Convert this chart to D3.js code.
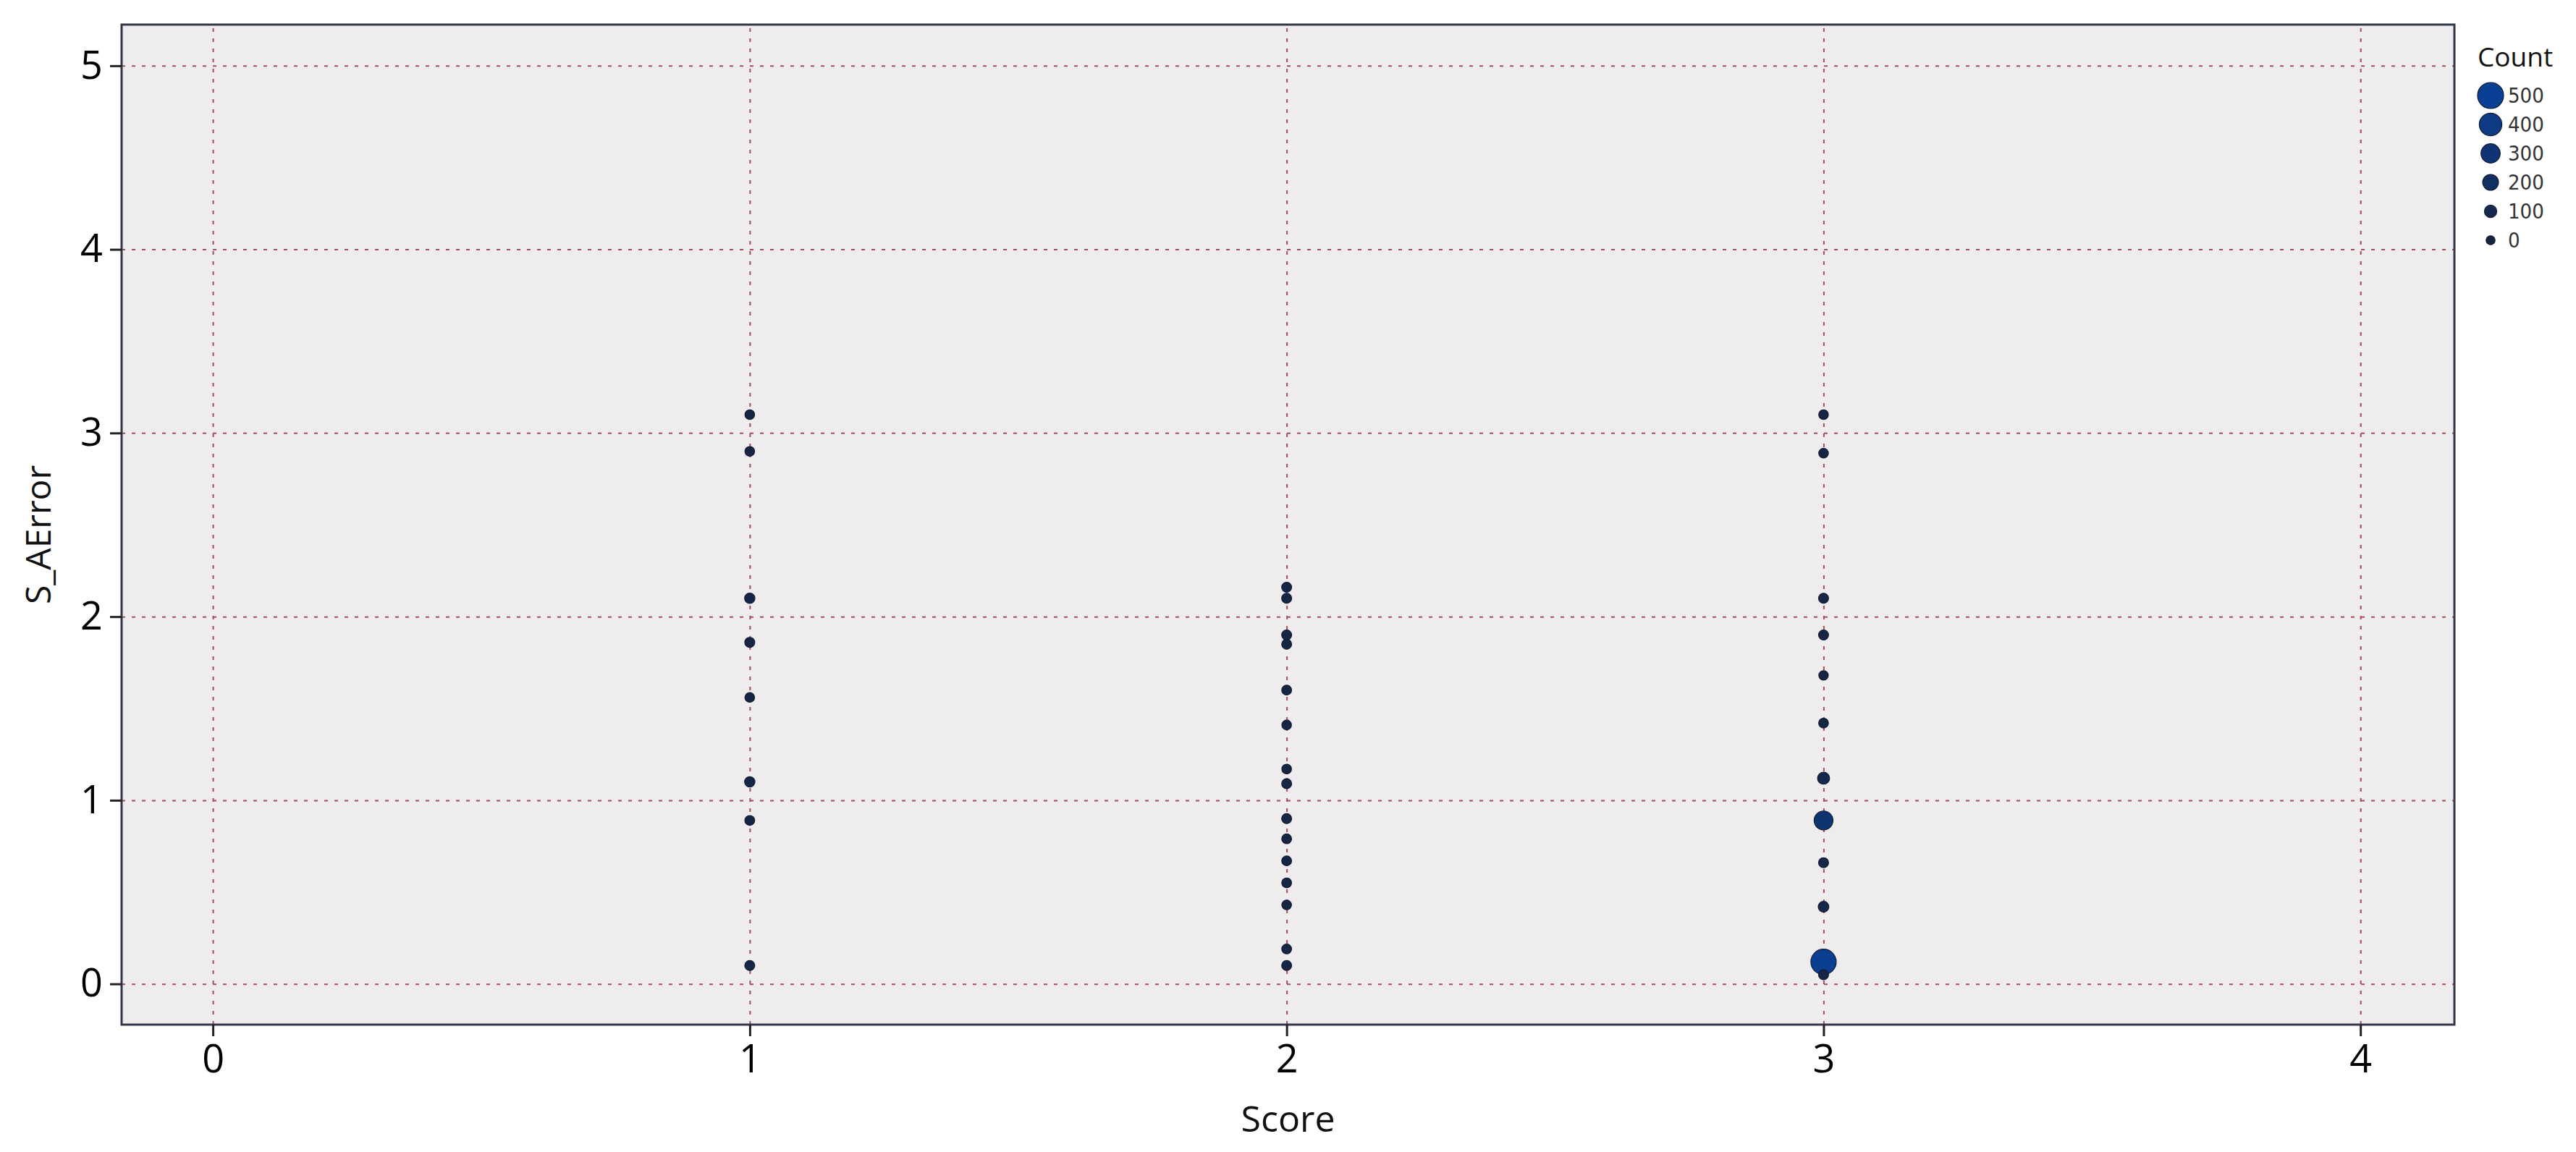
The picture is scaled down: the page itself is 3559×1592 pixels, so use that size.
<!DOCTYPE html>
<html>
<head>
<meta charset="utf-8">
<script src="https://cdn.jsdelivr.net/npm/d3@7"></script>
<style>
	body { margin: 0; background: #ffffff; }
	text { font-family: "Open Sans", "Noto Sans", sans-serif; fill: #111; }
	.legendtext { font-family: "Liberation Sans Narrow", "DejaVu Sans Condensed", sans-serif; fill: #333; }
</style>
</head>
<body>
<div id="chart"></div>
<script>
// points: score, error and count for each dot
var pointScore = [1, 1, 1, 1, 1, 1, 1, 1,
	2, 2, 2, 2, 2, 2, 2, 2, 2, 2, 2, 2, 2, 2, 2,
	3, 3, 3, 3, 3, 3, 3, 3, 3, 3, 3, 3];
var pointError = [3.10, 2.90, 2.10, 1.86, 1.56, 1.10, 0.89, 0.10,
	2.16, 2.10, 1.90, 1.85, 1.60, 1.41, 1.17, 1.09, 0.90, 0.79, 0.67, 0.55, 0.43, 0.19, 0.10,
	3.10, 2.89, 2.10, 1.90, 1.68, 1.42, 1.12, 0.89, 0.66, 0.42, 0.12, 0.05];
var pointCount = [20, 20, 40, 30, 20, 40, 25, 30,
	30, 30, 30, 30, 25, 20, 20, 30, 30, 25, 25, 25, 20, 25, 30,
	20, 20, 30, 30, 15, 25, 90, 290, 30, 50, 480, 30];

// ticks and legend values
var xTicks = [0, 1, 2, 3, 4];
var yTicks = [0, 1, 2, 3, 4, 5];
var legendCounts = [500, 400, 300, 200, 100, 0];

var width = 3559, height = 1592;
var margin = {top: 34, right: 168, bottom: 176, left: 168};
var w = width - margin.left - margin.right;
var h = height - margin.top - margin.bottom;

var x = d3.scaleLinear().domain([-0.17, 4.175]).range([0, w]);
var y = d3.scaleLinear().domain([-0.222, 5.224]).range([h, 0]);
var r = d3.scaleLinear().domain([0, 500]).range([6.2, 18]);
var color = d3.scaleLinear().domain([0, 500]).range(["#17243f", "#0b3f94"]);

var svg = d3.select("#chart").append("svg")
	.attr("width", width)
	.attr("height", height);

var g = svg.append("g")
	.attr("transform", "translate(" + margin.left + "," + margin.top + ")");

// plot background
g.append("rect")
	.attr("width", w)
	.attr("height", h)
	.style("fill", "#eeeced");

// grid lines
g.append("g")
	.attr("class", "grid")
	.call(d3.axisLeft(y).tickValues(yTicks).tickSize(-w).tickFormat(""))
	.call(function(s){ s.select(".domain").remove(); });
g.append("g")
	.attr("class", "grid")
	.attr("transform", "translate(0," + h + ")")
	.call(d3.axisBottom(x).tickValues(xTicks).tickSize(-h).tickFormat(""))
	.call(function(s){ s.select(".domain").remove(); });
g.selectAll(".grid line")
	.style("stroke", "#a64c5c")
	.style("stroke-width", 2)
	.style("stroke-dasharray", "5,9");

// make dot data, small dots on top
var dots = pointScore.map(function(d, i){
	return {score: d, error: pointError[i], count: pointCount[i]};
}).sort(function(a, b){ return b.count - a.count; });

g.selectAll(".dot")
	.data(dots)
	.enter().append("circle")
	.attr("class", "dot")
	.attr("cx", function(d){ return x(d.score); })
	.attr("cy", function(d){ return y(d.error); })
	.attr("r", function(d){ return r(d.count); })
	.style("fill", function(d){ return color(d.count); })
	.style("stroke", "#0e1a33")
	.style("stroke-width", 1.2);

// border
g.append("rect")
	.attr("width", w)
	.attr("height", h)
	.style("fill", "none")
	.style("stroke", "#323848")
	.style("stroke-width", 3);

// axes
var xAxis = g.append("g")
	.attr("transform", "translate(0," + h + ")")
	.call(d3.axisBottom(x).tickValues(xTicks).tickSize(16).tickPadding(12).tickFormat(d3.format("d")));
var yAxis = g.append("g")
	.call(d3.axisLeft(y).tickValues(yTicks).tickSize(16).tickPadding(10).tickFormat(d3.format("d")));
[xAxis, yAxis].forEach(function(a){
	a.select(".domain").remove();
	a.selectAll("line").style("stroke", "#222").style("stroke-width", 3);
	a.selectAll("text").style("font-size", "54px").style("fill", "#000")
		.style("font-family", "'Open Sans', sans-serif");
});

// axis titles
svg.append("text")
	.attr("x", margin.left + w / 2)
	.attr("y", 1564)
	.attr("text-anchor", "middle")
	.style("font-size", "50px")
	.text("Score");
svg.append("text")
	.attr("transform", "translate(70," + (margin.top + h / 2 + 14) + ") rotate(-90)")
	.attr("text-anchor", "middle")
	.style("font-size", "48px")
	.text("S_AError");

// legend
var legend = svg.append("g")
	.attr("transform", "translate(3423,0)");
legend.append("text")
	.attr("x", 0)
	.attr("y", 92)
	.style("font-size", "37px")
	.text("Count");
var item = legend.selectAll(".legend")
	.data(legendCounts)
	.enter().append("g")
	.attr("class", "legend")
	.attr("transform", function(d, i){ return "translate(18," + (132 + i * 40) + ")"; });
item.append("circle")
	.attr("r", function(d){ return r(d); })
	.style("fill", function(d){ return color(d); })
	.style("stroke", "#0e1a33")
	.style("stroke-width", 1.2);
item.append("text")
	.attr("class", "legendtext")
	.attr("x", 24)
	.attr("y", 10)
	.style("font-size", "29px")
	.text(function(d){ return d; });
</script>
</body>
</html>
